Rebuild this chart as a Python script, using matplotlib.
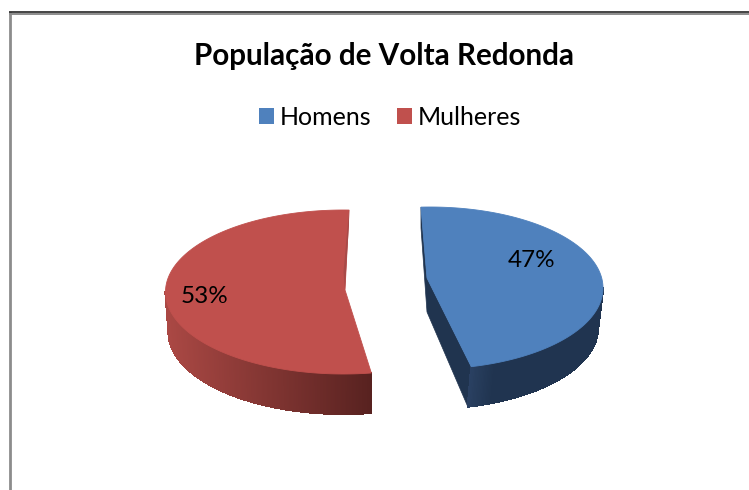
import numpy as np
import matplotlib
matplotlib.use("Agg")
import matplotlib.pyplot as plt
from matplotlib.patches import Patch, Polygon
from matplotlib.collections import PolyCollection

plt.rcParams['font.family'] = ['Lato', 'DejaVu Sans']

title = "População de Volta Redonda"
categories = ["Homens", "Mulheres"]
percent = [47, 53]

BLUE, RED = "#4F81BD", "#C0504D"
W, H = 749, 490

fig = plt.figure(figsize=(W / 100, H / 100), dpi=100, facecolor="white")
ax = fig.add_axes([0, 0, 1, 1])
ax.set_xlim(0, W)
ax.set_ylim(H, 0)
ax.axis("off")


def arc(c, a, b, deg):
    """Points on an ellipse; angle is clockwise from the top."""
    t = np.radians(deg)
    return np.column_stack([c[0] + a * np.sin(t), c[1] - b * np.cos(t)])


def side(top_c, top_ab, low_c, low_ab, deg, xr, c0, c1, z):
    """Curved outer wall as narrow strips shaded from left to right."""
    p = arc(top_c, *top_ab, deg)
    q = arc(low_c, *low_ab, deg)
    quads, cols = [], []
    c0, c1 = np.array(c0) / 255, np.array(c1) / 255
    for i in range(len(deg) - 1):
        quads.append([p[i], p[i + 1], q[i + 1], q[i]])
        f = np.clip((p[i, 0] - xr[0]) / (xr[1] - xr[0]), 0, 1)
        cols.append(c0 + (c1 - c0) * f)
    ax.add_collection(PolyCollection(quads, facecolors=cols, edgecolors=cols,
                                     linewidths=0.8, antialiaseds=False, zorder=z))


# ---- Homens slice (exploded right) ----
b_start = -3.0
b_end = b_start + percent[0] * 3.6
b_deg = np.linspace(b_start, b_end, 200)
b_c, b_ab = (430, 288), (173, 81)
b_low_c, b_low_ab = (427, 328), (171, 81)
b_apex = (427, 278)
b_low_apex = (427, 312)
b_top = arc(b_c, *b_ab, b_deg)
b_low = arc(b_low_c, *b_low_ab, b_deg[b_deg > 60][::-1])
# dark cut face + wall silhouette
ax.add_patch(Polygon(np.vstack([[b_top[0]], [(421, 228)], [b_low_apex],
                                b_low[0:1], [b_top[-1]], [b_apex]]),
                     closed=True, fc="#20344F", ec="#20344F", lw=0.5, zorder=2))
side(b_c, b_ab, b_low_c, b_low_ab, np.linspace(b_end, 90, 160),
     (468, 495), (43, 66, 100), (32, 52, 80), 2)
ax.add_patch(Polygon(np.vstack([[b_apex], b_top]), closed=True,
                     fc=BLUE, ec=BLUE, lw=0.6, zorder=3))

# ---- Mulheres slice (exploded left) ----
r_start = b_end + 4.8
r_end = r_start + percent[1] * 3.6
r_deg = np.linspace(r_start, r_end, 220)
r_c, r_ab = (343.5, 292), (178, 82)
r_low_c, r_low_ab = (343.5, 332), (175, 82)
r_apex = (345, 290)
r_top = arc(r_c, *r_ab, r_deg)
side(r_c, r_ab, r_low_c, r_low_ab, np.linspace(270, r_start, 220),
     (168, 371), (170, 72, 68), (88, 34, 32), 2)
ax.add_patch(Polygon(np.vstack([[r_apex], r_top]), closed=True,
                     fc=RED, ec=RED, lw=0.6, zorder=3))
# thin sliver of the rear cut face
ax.add_patch(Polygon([r_top[-1], (349, 225), (347, 255), r_apex, (343.5, 272)],
                     closed=True, fc="#A84A48", ec="none", zorder=4))

# ---- Percentage labels ----
ax.text(531.5, 260, f"{percent[0]}%", ha="center", va="center", fontsize=17.5,
        color="black", zorder=5)
ax.text(205, 296, f"{percent[1]}%", ha="center", va="center", fontsize=17.5,
        color="black", zorder=5)

# ---- Title and legend ----
ax.text(384.5, 56, title, ha="center", va="center", fontsize=21.3,
        fontweight="bold", color="black")
handles = [Patch(fc=BLUE, ec="none"), Patch(fc=RED, ec="none")]
ax.legend(handles, categories, loc="center", bbox_to_anchor=(390, 117),
          bbox_transform=ax.transData, ncol=2, frameon=False, fontsize=18,
          handlelength=0.6, handleheight=0.6, handletextpad=0.24,
          columnspacing=1.04, borderpad=0, borderaxespad=0)

# ---- Outer frame (top and left edges) ----
ax.plot([9.5, 9.5], [12, H], color="#8C8C8C", lw=2.0, solid_capstyle="butt", zorder=1)
ax.plot([9, W], [13.8, 13.8], color="#8C8C8C", lw=1.4, solid_capstyle="butt", zorder=1)
ax.plot([9, W], [12.3, 12.3], color="#111111", lw=1.1, solid_capstyle="butt", zorder=1)

fig.savefig("out.png", dpi=100, facecolor="white")
